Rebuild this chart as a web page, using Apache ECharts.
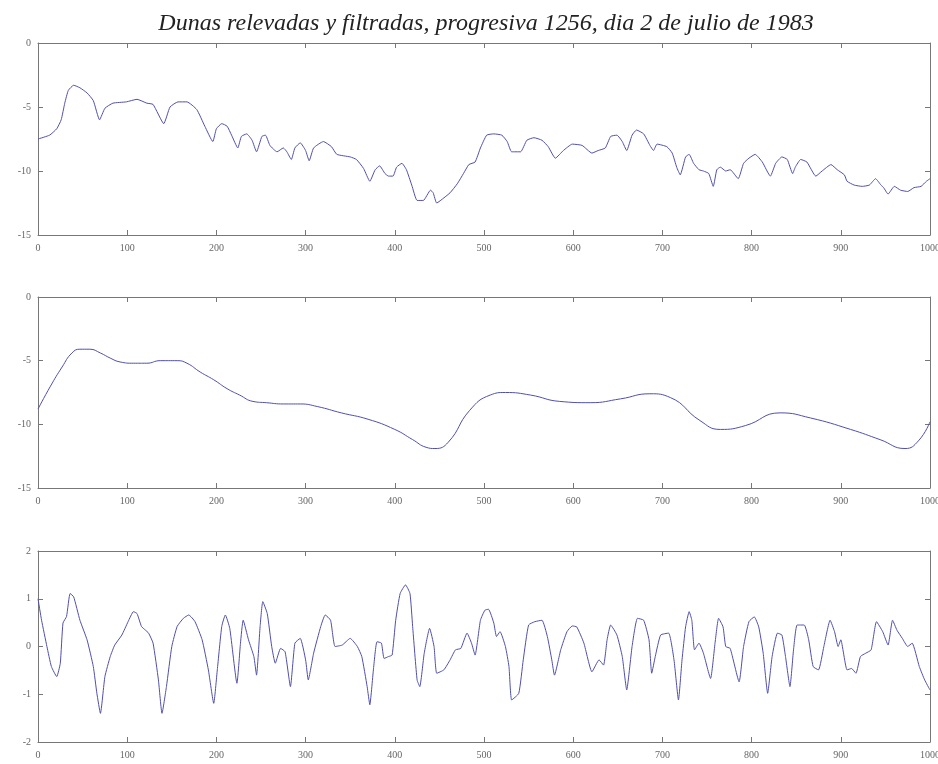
<!DOCTYPE html>
<html>
<head>
<meta charset="utf-8">
<script src="https://cdn.jsdelivr.net/npm/echarts@6/dist/echarts.min.js"></script>
<style>
  html, body { margin: 0; padding: 0; background: #fff; }
  #chart { width: 938px; height: 764px; }
</style>
</head>
<body>
<div id="chart"></div>
<script>
// perfil relevado (panel superior)
const relevadoX = [0, 13, 21, 26, 30, 34, 40, 47, 55, 62, 69, 75, 84, 99, 111, 122, 129, 141, 148, 157, 167, 178, 187, 196, 200, 206, 212, 217, 224, 228, 234, 240, 245, 251, 255, 260, 268, 275, 279, 284, 288, 294, 300, 304, 309, 320, 329, 335, 350, 357, 365, 372, 378, 383, 389, 393, 398, 402, 408, 413, 419, 425, 432, 440, 443, 447, 455, 462, 470, 477, 483, 490, 496, 503, 511, 520, 526, 531, 541, 548, 556, 565, 572, 580, 589, 599, 610, 621, 628, 636, 642, 649, 655, 660, 666, 671, 679, 686, 690, 694, 705, 711, 716, 720, 726, 730, 735, 741, 746, 752, 757, 761, 765, 771, 776, 785, 791, 797, 804, 812, 821, 827, 834, 840, 846, 849, 855, 862, 872, 879, 889, 896, 904, 907, 915, 924, 932, 939, 945, 948, 953, 960, 967, 975, 982, 990, 996, 1000];
const relevadoY = [-7.5, -7.2, -6.7, -6.0, -4.7, -3.7, -3.3, -3.5, -3.9, -4.5, -6.0, -5.1, -4.7, -4.6, -4.4, -4.7, -4.8, -6.3, -5.0, -4.6, -4.6, -5.2, -6.5, -7.7, -6.7, -6.3, -6.5, -7.2, -8.2, -7.3, -7.1, -7.6, -8.5, -7.3, -7.2, -8.0, -8.5, -8.2, -8.5, -9.1, -8.2, -7.8, -8.4, -9.2, -8.2, -7.7, -8.1, -8.7, -8.9, -9.1, -9.8, -10.8, -9.9, -9.6, -10.2, -10.4, -10.4, -9.7, -9.4, -9.9, -11.1, -12.3, -12.3, -11.5, -11.7, -12.5, -12.1, -11.7, -11.0, -10.2, -9.5, -9.3, -8.2, -7.2, -7.1, -7.2, -7.7, -8.5, -8.5, -7.6, -7.4, -7.6, -8.1, -9.0, -8.4, -7.9, -8.0, -8.6, -8.4, -8.2, -7.3, -7.2, -7.7, -8.4, -7.2, -6.8, -7.1, -8.0, -8.4, -7.9, -8.1, -8.6, -9.7, -10.3, -8.9, -8.7, -9.4, -9.9, -10.0, -10.2, -11.2, -9.9, -9.7, -10.0, -9.9, -10.6, -9.4, -9.0, -8.7, -9.3, -10.4, -9.4, -8.9, -9.1, -10.2, -9.7, -9.1, -9.3, -10.4, -10.0, -9.5, -9.9, -10.3, -10.8, -11.1, -11.2, -11.1, -10.6, -11.1, -11.3, -11.8, -11.2, -11.5, -11.6, -11.3, -11.2, -10.8, -10.6];

// perfil filtrado (panel central)
const filtradoX = [0, 14, 27, 38, 47, 58, 70, 81, 92, 107, 122, 137, 156, 167, 182, 197, 212, 226, 241, 256, 275, 294, 313, 340, 370, 400, 420, 435, 445, 460, 484, 507, 524, 552, 585, 619, 653, 686, 709, 742, 765, 793, 832, 866, 911, 944, 972, 987, 1000];
const filtradoY = [-8.8, -7.0, -5.5, -4.4, -4.1, -4.1, -4.4, -4.8, -5.1, -5.2, -5.2, -5.0, -5.0, -5.2, -5.9, -6.5, -7.2, -7.7, -8.2, -8.3, -8.4, -8.4, -8.6, -9.1, -9.6, -10.4, -11.2, -11.8, -11.9, -11.4, -8.9, -7.7, -7.5, -7.7, -8.2, -8.3, -8.0, -7.6, -7.9, -9.7, -10.4, -10.1, -9.1, -9.5, -10.4, -11.2, -11.9, -11.3, -9.8];

// diferencia (panel inferior)
const difX = [0, 4, 10, 15, 21, 25, 28, 32, 36, 40, 47, 55, 62, 66, 70, 75, 81, 86, 94, 101, 107, 111, 116, 120, 124, 129, 135, 139, 144, 150, 156, 163, 169, 176, 184, 191, 197, 201, 206, 210, 215, 223, 227, 230, 236, 242, 245, 249, 252, 257, 262, 266, 272, 277, 283, 288, 294, 300, 303, 309, 317, 322, 328, 333, 341, 350, 358, 363, 369, 372, 376, 380, 385, 388, 393, 397, 401, 406, 412, 417, 420, 425, 428, 433, 439, 444, 447, 455, 462, 468, 474, 481, 486, 490, 496, 501, 505, 511, 514, 518, 524, 528, 531, 539, 544, 550, 557, 565, 571, 576, 579, 586, 593, 599, 604, 612, 621, 629, 634, 638, 642, 649, 655, 660, 666, 672, 679, 685, 688, 692, 698, 707, 713, 718, 722, 726, 730, 733, 736, 741, 746, 754, 759, 763, 768, 771, 776, 786, 791, 797, 803, 808, 813, 818, 823, 829, 834, 838, 843, 847, 851, 859, 864, 869, 875, 881, 888, 893, 897, 900, 907, 912, 917, 922, 928, 934, 940, 947, 953, 958, 963, 969, 975, 980, 988, 994, 1000];
const difY = [1.0, 0.55, 0.0, -0.42, -0.63, -0.35, 0.49, 0.63, 1.11, 1.04, 0.55, 0.14, -0.42, -0.98, -1.4, -0.63, -0.21, 0.03, 0.24, 0.52, 0.73, 0.69, 0.42, 0.35, 0.28, 0.07, -0.7, -1.4, -0.84, 0.0, 0.42, 0.59, 0.66, 0.52, 0.14, -0.49, -1.19, -0.49, 0.42, 0.66, 0.38, -0.77, 0.07, 0.55, 0.14, -0.21, -0.6, 0.42, 0.94, 0.69, 0.0, -0.35, -0.04, -0.11, -0.84, 0.07, 0.17, -0.28, -0.7, -0.14, 0.42, 0.66, 0.55, 0.0, 0.03, 0.17, 0.0, -0.21, -0.84, -1.22, -0.49, 0.1, 0.07, -0.25, -0.21, -0.18, 0.55, 1.11, 1.29, 1.11, 0.42, -0.7, -0.84, -0.14, 0.38, 0.0, -0.56, -0.49, -0.28, -0.07, -0.04, 0.28, 0.07, -0.18, 0.55, 0.76, 0.78, 0.49, 0.21, 0.31, 0.0, -0.42, -1.12, -0.98, -0.28, 0.45, 0.52, 0.55, 0.21, -0.28, -0.6, -0.07, 0.31, 0.43, 0.41, 0.07, -0.53, -0.28, -0.39, 0.14, 0.45, 0.24, -0.21, -0.91, 0.0, 0.59, 0.55, 0.14, -0.56, -0.21, 0.24, 0.28, -0.28, -1.12, -0.28, 0.41, 0.73, 0.55, -0.07, 0.07, -0.14, -0.67, 0.07, 0.59, 0.41, 0.0, -0.04, -0.74, 0.0, 0.52, 0.62, 0.41, -0.14, -0.98, -0.21, 0.28, 0.24, -0.21, -0.84, -0.07, 0.45, 0.45, 0.14, -0.42, -0.49, 0.0, 0.55, 0.31, 0.0, 0.14, -0.49, -0.46, -0.56, -0.21, -0.14, -0.07, 0.52, 0.31, 0.03, 0.55, 0.34, 0.17, 0.0, 0.07, -0.42, -0.7, -0.91];

const titulo = 'Dunas relevadas y filtradas, progresiva 1256, dia 2 de julio de 1983';
const xTicks = { min: 0, max: 1000, interval: 100 };
const lineColor = '#4f4fab';

const pairs = (xs, ys) => xs.map((x, i) => [x, ys[i]]);

const chart = echarts.init(document.getElementById('chart'));

// tres paneles apilados, sin ajuste automatico por etiquetas
const grids = [
  { left: 38, top: 43, width: 892, height: 192, outerBoundsMode: 'none', containLabel: false },
  { left: 38, top: 297, width: 892, height: 191, outerBoundsMode: 'none', containLabel: false },
  { left: 38, top: 551, width: 892, height: 191, outerBoundsMode: 'none', containLabel: false },
];

const labelStyle = { color: '#666', fontSize: 10, fontFamily: 'Liberation Serif', formatter: (v) => String(v) };
const lineStyle = { color: '#777', width: 1 };

// ejes: abajo/izquierda con etiquetas, arriba/derecha solo marcas (caja tipo matlab)
const xAxes = [];
const yAxes = [];
const yRanges = [
  { min: -15, max: 0, interval: 5 },
  { min: -15, max: 0, interval: 5 },
  { min: -2, max: 2, interval: 1 },
];
grids.forEach((g, i) => {
  xAxes.push({
    type: 'value', gridIndex: i, position: 'bottom', ...xTicks,
    axisLine: { show: true, onZero: false, lineStyle },
    axisTick: { show: true, inside: true, length: 5, lineStyle },
    axisLabel: { ...labelStyle, margin: 8 },
    splitLine: { show: false },
  });
  xAxes.push({
    type: 'value', gridIndex: i, position: 'top', ...xTicks,
    axisLine: { show: true, onZero: false, lineStyle },
    axisTick: { show: true, inside: true, length: 5, lineStyle },
    axisLabel: { show: false },
    splitLine: { show: false },
  });
  yAxes.push({
    type: 'value', gridIndex: i, position: 'left', ...yRanges[i],
    axisLine: { show: true, onZero: false, lineStyle },
    axisTick: { show: true, inside: true, length: 5, lineStyle },
    axisLabel: { ...labelStyle, margin: 7 },
    splitLine: { show: false },
  });
  yAxes.push({
    type: 'value', gridIndex: i, position: 'right', ...yRanges[i],
    axisLine: { show: true, onZero: false, lineStyle },
    axisTick: { show: true, inside: true, length: 5, lineStyle },
    axisLabel: { show: false },
    splitLine: { show: false },
  });
});

const serie = (data, i, smooth) => ({
  type: 'line',
  xAxisIndex: i * 2,
  yAxisIndex: i * 2,
  data,
  symbol: 'none',
  smooth,
  lineStyle: { color: lineColor, width: 1 },
});

chart.setOption({
  animation: false,
  title: {
    text: titulo,
    left: 481,
    top: 7,
    textAlign: 'center',
    textStyle: { fontFamily: 'Liberation Serif', fontStyle: 'italic', fontWeight: 'normal', fontSize: 24, color: '#222' },
  },
  grid: grids,
  xAxis: xAxes,
  yAxis: yAxes,
  series: [
    serie(pairs(relevadoX, relevadoY), 0, 0.15),
    serie(pairs(filtradoX, filtradoY), 1, 0.5),
    serie(pairs(difX, difY), 2, 0.15),
  ],
});
</script>
</body>
</html>
